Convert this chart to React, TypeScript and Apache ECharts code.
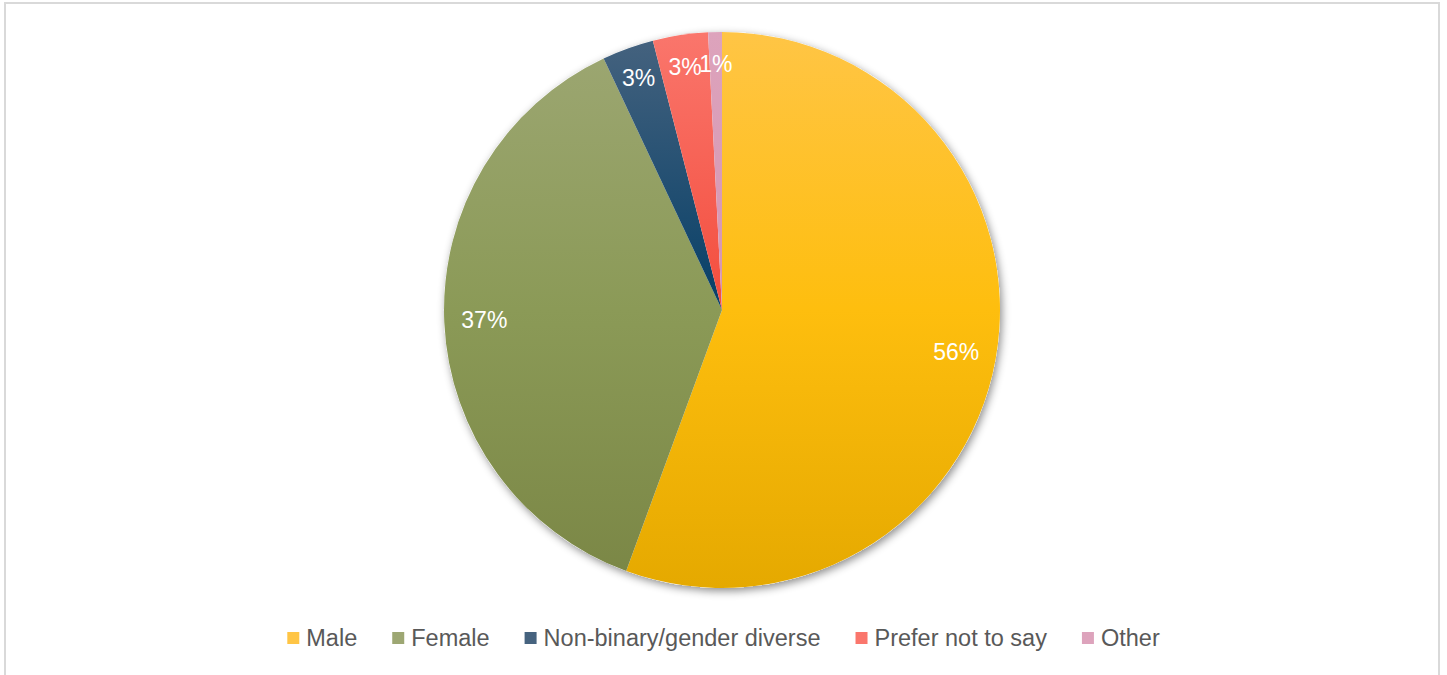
import React, { useEffect, useRef } from "react";
import * as echarts from "echarts";

const categories = ["Male", "Female", "Non-binary/gender diverse", "Prefer not to say", "Other"];
const values = [55.6, 37.4, 3.0, 3.2, 0.8];
const labelTexts = ["56%", "37%", "3%", "3%", "1%"];
const labelGroup = [0, 0, 1, 1, 2];
const gradientStops = [
  ["#FFC545", "#FEBE0E", "#E5A900"],
  ["#9DA773", "#8B9A57", "#7A8645"],
  ["#46637F", "#063F67", "#03304F"],
  ["#FA766C", "#F34D3D", "#E33A2A"],
  ["#DDA3BC", "#D596B1", "#C08098"],
];

const CX = 722;
const CY = 310;
const R = 278;

function grad(stops: string[]) {
  return {
    type: "linear",
    x: 0,
    y: CY - R,
    x2: 0,
    y2: CY + R,
    global: true,
    colorStops: [
      { offset: 0, color: stops[0] },
      { offset: 0.5, color: stops[1] },
      { offset: 1, color: stops[2] },
    ],
  };
}

export default function App() {
  const ref = useRef<HTMLDivElement>(null);
  useEffect(() => {
    if (!ref.current) return;
    const chart = echarts.init(ref.current, undefined, { renderer: "svg" });
    const total = values.reduce((a, b) => a + b, 0);
    const mainData = categories.map((name, i) => ({
      name,
      value: values[i],
      itemStyle: { color: grad(gradientStops[i]) },
    }));
    const labelData = (g: number) =>
      categories.map((name, i) => ({
        name,
        value: values[i],
        label: { show: labelGroup[i] === g, formatter: labelTexts[i] },
      }));
    const labelStyle = {
      position: "inside",
      color: "#ffffff",
      fontSize: 23,
      overflow: "none",
      fontFamily: "Liberation Sans, Arial, sans-serif",
    };
    const labelSeries = (g: number, inner: number) => ({
      type: "pie",
      center: [CX, CY],
      radius: [R * inner, R],
      startAngle: 90,
      clockwise: true,
      silent: true,
      z: 3,
      minShowLabelAngle: 0,
      avoidLabelOverlap: false,
      legendHoverLink: false,
      itemStyle: { color: "rgba(0,0,0,0)" },
      label: labelStyle,
      labelLine: { show: false },
      labelLayout: { hideOverlap: false },
      data: labelData(g),
    });
    chart.setOption({
      animation: false,
      backgroundColor: "#ffffff",
      graphic: [
        {
          type: "rect",
          shape: { x: 5, y: 3, width: 1434, height: 700 },
          style: { fill: "none", stroke: "#d9d9d9", lineWidth: 2 },
          silent: true,
        },
      ],
      legend: {
        left: "center",
        top: 621,
        itemWidth: 12,
        itemHeight: 12,
        itemGap: 35,
        icon: "rect",
        textStyle: {
          color: "#595959",
          fontSize: 23.5,
          fontFamily: "Liberation Sans, Arial, sans-serif",
          lineHeight: 24,
          padding: [0, 0, 0, 2],
        },
        data: categories.map((name, i) => ({
          name,
          itemStyle: { color: grad(gradientStops[i]) },
        })),
      },
      series: [
        {
          type: "pie",
          center: [CX, CY],
          radius: [0, R],
          startAngle: 90,
          clockwise: true,
          silent: true,
          z: 1,
          legendHoverLink: false,
          label: { show: false },
          labelLine: { show: false },
          itemStyle: {
            color: "#ffffff",
            shadowBlur: 8,
            shadowOffsetX: 2,
            shadowOffsetY: 3,
            shadowColor: "rgba(0,0,0,0.45)",
          },
          data: [{ name: "__bg", value: total }],
        },
        {
          type: "pie",
          center: [CX, CY],
          radius: [0, R],
          startAngle: 90,
          clockwise: true,
          z: 2,
          label: { show: false },
          labelLine: { show: false },
          itemStyle: { borderWidth: 0 },
          data: mainData,
        },
        labelSeries(0, 0.69),
        labelSeries(1, 0.75),
        labelSeries(2, 0.75),
      ],
    });
    return () => chart.dispose();
  }, []);
  return (
    <div
      ref={ref}
      style={{ position: "absolute", left: 0, top: 0, width: 1447, height: 675 }}
    />
  );
}
